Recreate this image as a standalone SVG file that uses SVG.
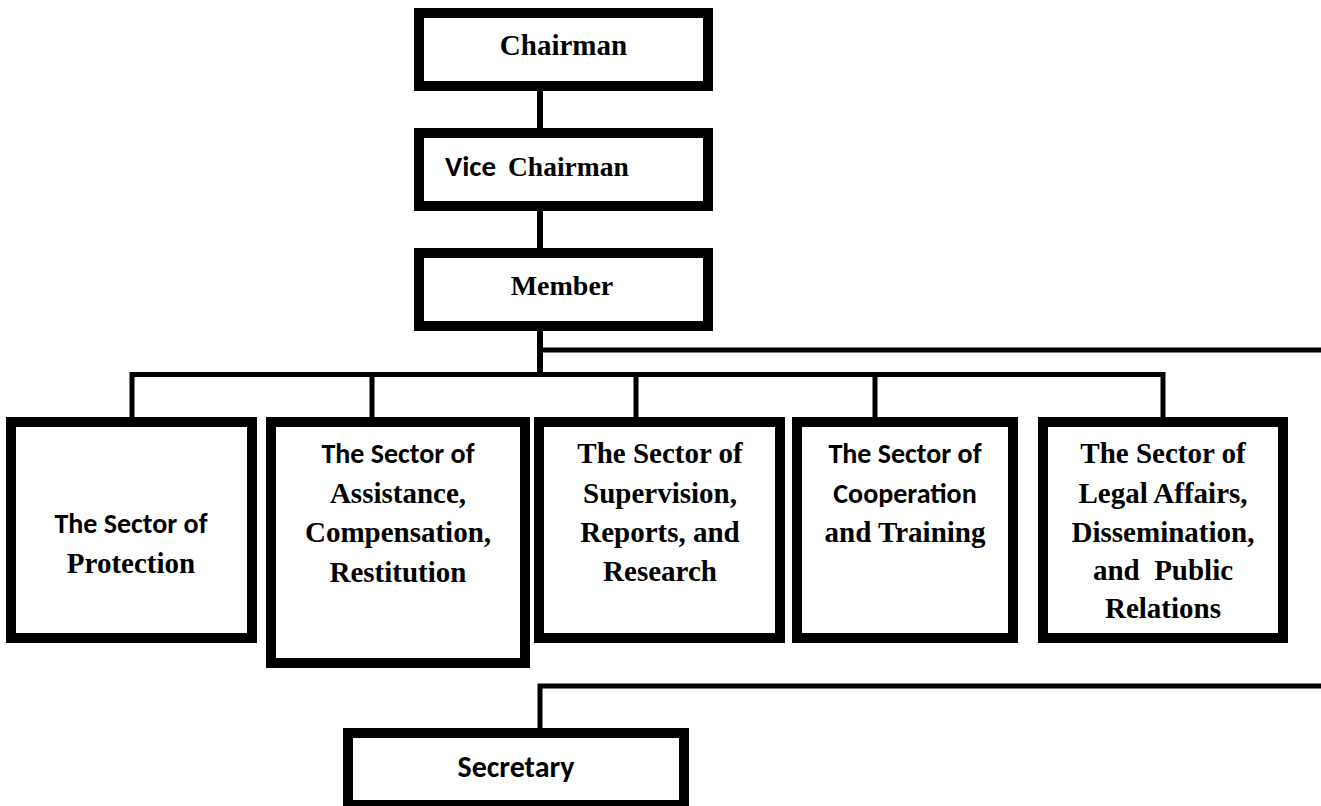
<svg xmlns="http://www.w3.org/2000/svg" width="1321" height="806" viewBox="0 0 1321 806">
  <style>
    .box { fill: #ffffff; stroke: #000000; stroke-width: 10; }
    .wire { fill: none; stroke: #000000; stroke-width: 5; }
    .serif { font-family: "Liberation Serif", "Times New Roman", serif; font-weight: bold; font-size: 29px; fill: #000000; }
    .sans { font-family: Carlito, Lato, "Liberation Sans", sans-serif; font-weight: bold; font-size: 28px; fill: #000000; }
    .mid { text-anchor: middle; }
  </style>
  <rect width="1321" height="806" fill="#ffffff"/>

  <!-- connectors -->
  <g id="connectors">
    <line class="wire" x1="540" y1="86" x2="540" y2="133" style="stroke-width:6"/>
    <line class="wire" x1="540" y1="206" x2="540" y2="253" style="stroke-width:6"/>
    <line class="wire" x1="540" y1="326" x2="540" y2="377" style="stroke-width:6"/>
    <line class="wire" x1="540" y1="350" x2="1321" y2="350"/>
    <polyline class="wire" points="132,422 132,374.5 1163,374.5 1163,422"/>
    <line class="wire" x1="372" y1="374.5" x2="372" y2="422"/>
    <line class="wire" x1="636" y1="374.5" x2="636" y2="422"/>
    <line class="wire" x1="875" y1="374.5" x2="875" y2="422"/>
    <polyline class="wire" points="540,733 540,686 1321,686"/>
  </g>

  <g id="chairman">
    <rect class="box" x="419" y="13" width="289" height="73"/>
    <text class="serif mid" x="563.5" y="55">Chairman</text>
  </g>

  <g id="vice-chairman">
    <rect class="box" x="419" y="133" width="289" height="73"/>
    <text y="176"><tspan class="sans" x="445" style="font-size:29px">Vice</tspan><tspan class="serif" x="508" style="font-size:27.5px">Chairman</tspan></text>
  </g>

  <g id="member">
    <rect class="box" x="419" y="253" width="289" height="73"/>
    <text class="serif mid" x="562" y="295" style="font-size:28px">Member</text>
  </g>

  <g id="sector-protection">
    <rect class="box" x="11" y="422" width="241" height="216"/>
    <text class="sans mid" x="131" y="533">The Sector of</text>
    <text class="serif mid" x="131" y="573">Protection</text>
  </g>

  <g id="sector-assistance">
    <rect class="box" x="271" y="422" width="254" height="241"/>
    <text class="sans mid" x="398" y="463">The Sector of</text>
    <text class="serif mid" x="398" y="503">Assistance,</text>
    <text class="serif mid" x="398" y="542">Compensation,</text>
    <text class="serif mid" x="398" y="582">Restitution</text>
  </g>

  <g id="sector-supervision">
    <rect class="box" x="539" y="422" width="241" height="216"/>
    <text class="serif mid" x="660" y="463">The Sector of</text>
    <text class="serif mid" x="660" y="503">Supervision,</text>
    <text class="serif mid" x="660" y="542">Reports, and</text>
    <text class="serif mid" x="660" y="581">Research</text>
  </g>

  <g id="sector-cooperation">
    <rect class="box" x="797" y="422" width="216" height="216"/>
    <text class="sans mid" x="905" y="463">The Sector of</text>
    <text class="sans mid" x="905" y="503">Cooperation</text>
    <text class="serif mid" x="905" y="542">and Training</text>
  </g>

  <g id="sector-legal">
    <rect class="box" x="1043" y="422" width="240" height="216"/>
    <text class="serif mid" x="1163" y="463">The Sector of</text>
    <text class="serif mid" x="1163" y="503">Legal Affairs,</text>
    <text class="serif mid" x="1163" y="542">Dissemination,</text>
    <text class="serif mid" x="1163" y="580" xml:space="preserve">and  Public</text>
    <text class="serif mid" x="1163" y="618">Relations</text>
  </g>

  <g id="secretary">
    <rect class="box" x="348" y="733" width="336" height="72"/>
    <text class="sans mid" x="516" y="777" style="font-size:30px">Secretary</text>
  </g>
</svg>
